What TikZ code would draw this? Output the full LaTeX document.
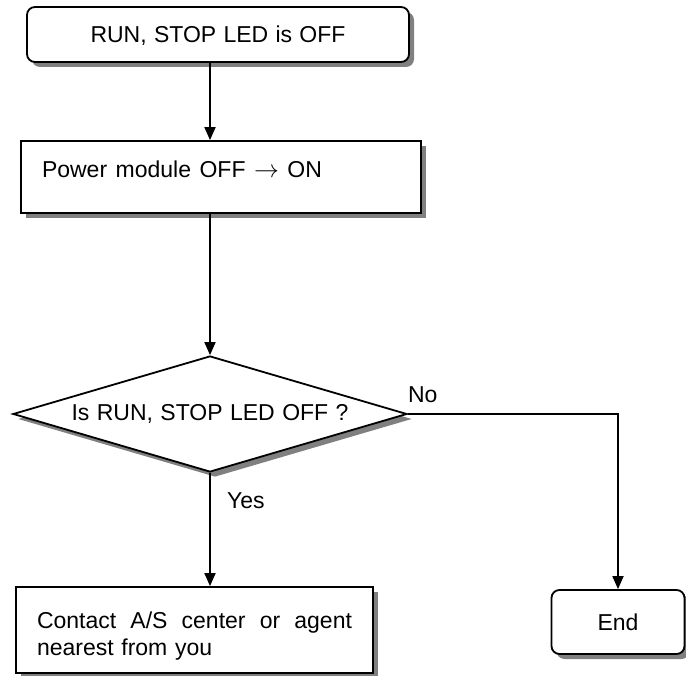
\documentclass[tikz,border=0pt]{standalone}
\usepackage{fontspec}
\setmainfont{Liberation Sans}
\usetikzlibrary{arrows.meta,shapes.geometric,shadows,positioning}

\begin{document}
\begin{tikzpicture}[x=1pt,y=-1pt,>={Triangle[length=13pt,width=11pt]},
  every node/.style={font=\fontsize{23}{27}\selectfont},
  box/.style={draw,line width=1.8pt,fill=white,inner sep=0pt,
    drop shadow={shadow xshift=5pt,shadow yshift=-5pt,draw=none,fill=gray,opacity=1}},
  roundbox/.style={box,rounded corners=8pt},
  decision/.style={box,diamond,aspect=3.4},
  flow/.style={line width=1.8pt,->}]
  \useasboundingbox (0,0) rectangle (686,676);
  % boxes
  \node[roundbox,minimum width=382pt,minimum height=55pt,text height=16pt,text depth=0pt]
    (start) at (218,34.5) {\makebox[255pt][s]{RUN, STOP LED is OFF}};
  \node[box,minimum width=400pt,minimum height=72pt,text width=358pt,align=left,
    inner xsep=21pt,text height=16pt,text depth=14pt]
    (power) at (221,177) {\makebox[280pt][s]{\spaceskip=0pt Power module OFF $\rightarrow$ ON}};
  \node[decision,minimum width=394pt,minimum height=116pt]
    (dec) at (210,414) {\makebox[277pt][s]{Is RUN, STOP LED OFF ?}};
  \node[box,minimum width=357pt,minimum height=86pt,text width=315pt,align=left,
    inner xsep=21pt,text height=16pt,text depth=20pt]
    (contact) at (194.5,630)
    {\makebox[315pt][s]{\spaceskip=0pt Contact A/S center or agent}\\nearest from you};
  \node[roundbox,minimum width=133pt,minimum height=64pt] (end) at (618,622) {End};
  % labels
  \node[inner sep=0pt,above right=11pt and 0pt of dec.east] (lblno) {No};
  \node[inner sep=0pt,below right=20pt and 17pt of dec.south] (lblyes) {Yes};
  % connectors
  \draw[flow] (start.south -| dec.north) -- (power.north -| dec.north);
  \draw[flow] (power.south -| dec.north) -- (dec.north);
  \draw[flow] (dec.south) -- (contact.north -| dec.south);
  \draw[flow] (dec.east) -| (end.north);
\end{tikzpicture}
\end{document}
